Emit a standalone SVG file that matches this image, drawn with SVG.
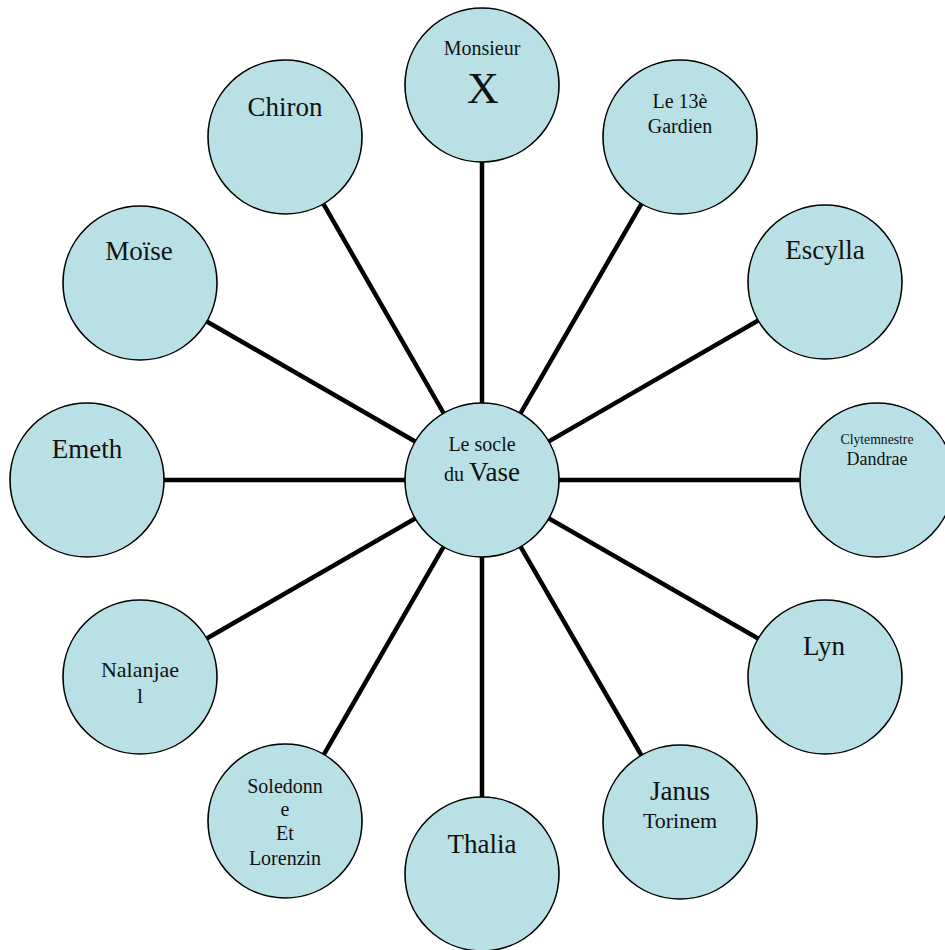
<svg xmlns="http://www.w3.org/2000/svg" width="945" height="950" viewBox="0 0 945 950">
<style>
.n circle{fill:#b9e0e4;stroke:#000;stroke-width:1.6}
text{font-family:"Liberation Serif","Times New Roman",serif;fill:#111;text-anchor:middle}
.c line{stroke:#000;stroke-width:4.5}
</style>
<rect width="945" height="950" fill="#fff"/>
<g id="connectors" class="c">
<line x1="482" y1="480" x2="482" y2="85"/>
<line x1="482" y1="480" x2="285" y2="137"/>
<line x1="482" y1="480" x2="680" y2="137"/>
<line x1="482" y1="480" x2="140" y2="283"/>
<line x1="482" y1="480" x2="825" y2="282"/>
<line x1="482" y1="480" x2="87" y2="480"/>
<line x1="482" y1="480" x2="877" y2="480"/>
<line x1="482" y1="480" x2="140" y2="677"/>
<line x1="482" y1="480" x2="825" y2="677"/>
<line x1="482" y1="480" x2="285" y2="822"/>
<line x1="482" y1="480" x2="680" y2="822"/>
<line x1="482" y1="480" x2="482" y2="874"/>
</g>
<g id="monsieur-x" class="n"><circle cx="482" cy="85" r="77"/>
<text x="482" y="55" font-size="20">Monsieur</text>
<text x="483" y="103" font-size="44">X</text></g>
<g id="chiron" class="n"><circle cx="285" cy="137" r="77"/>
<text x="285" y="116" font-size="27">Chiron</text></g>
<g id="le-13e-gardien" class="n"><circle cx="680" cy="137" r="77"/>
<text x="680" y="108" font-size="20">Le 13è</text>
<text x="680" y="133" font-size="20">Gardien</text></g>
<g id="moise" class="n"><circle cx="140" cy="283" r="77"/>
<text x="139" y="260" font-size="27">Moïse</text></g>
<g id="escylla" class="n"><circle cx="825" cy="282" r="77"/>
<text x="825" y="259" font-size="27">Escylla</text></g>
<g id="emeth" class="n"><circle cx="87" cy="480" r="77"/>
<text x="87" y="458" font-size="27">Emeth</text></g>
<g id="clytemnestre" class="n"><circle cx="877" cy="480" r="77"/>
<text x="877" y="444" font-size="13.7">Clytemnestre</text>
<text x="877" y="465" font-size="18">Dandrae</text></g>
<g id="socle" class="n"><circle cx="482" cy="480" r="77"/>
<text x="482" y="451" font-size="20">Le socle</text>
<text x="482" y="481" font-size="20">du <tspan font-size="27">Vase</tspan></text></g>
<g id="nalanjael" class="n"><circle cx="140" cy="677" r="77"/>
<text x="140" y="677" font-size="22">Nalanjae</text>
<text x="140" y="703" font-size="22">l</text></g>
<g id="lyn" class="n"><circle cx="825" cy="677" r="77"/>
<text x="824" y="655" font-size="27">Lyn</text></g>
<g id="soledonne" class="n"><circle cx="285" cy="821" r="77"/>
<text x="285" y="793" font-size="20">Soledonn</text>
<text x="285" y="816" font-size="20">e</text>
<text x="285" y="840" font-size="20">Et</text>
<text x="285" y="865" font-size="20">Lorenzin</text></g>
<g id="janus" class="n"><circle cx="680" cy="822" r="77"/>
<text x="680" y="800" font-size="27">Janus</text>
<text x="680" y="828" font-size="22">Torinem</text></g>
<g id="thalia" class="n"><circle cx="482" cy="874" r="77"/>
<text x="482" y="853" font-size="27">Thalia</text></g>
</svg>
